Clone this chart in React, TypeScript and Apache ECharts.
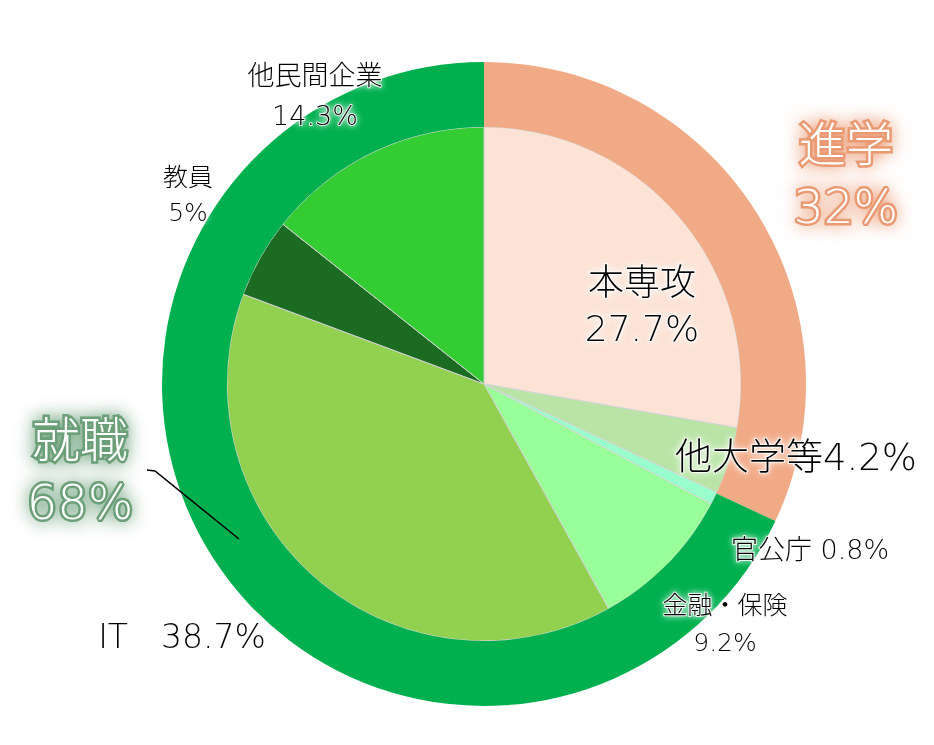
import React, { useRef, useEffect } from 'react';
import * as echarts from 'echarts';

// 外側: 進学 / 就職
const outerNames = ['進学', '就職'];
const outerValues = [32, 68];
const outerColors = ['#f1aa86', '#00b04f'];

// 内側: 内訳
const innerNames = ['本専攻', '他大学等', '官公庁', '金融・保険', 'IT', '教員', '他民間企業'];
const innerValues = [27.7, 4.2, 0.8, 9.2, 38.7, 5, 14.3];
const innerColors = ['#fce3d6', '#b9e4a6', '#99ffcc', '#99ff99', '#92d050', '#1c6b22', '#33cc33'];
// 名前と数値の区切り
const innerSeps = ['\n', '', ' ', '\n', '　', '\n', '\n'];

// ラベル位置 [x, y, fontSize, lineHeight]
const outerLabelPos = [
  [846, 175, 47, 62],
  [80, 471, 48, 62],
];
const innerLabelPos = [
  [642, 305, 36, 46],
  [796, 457, 37, 40],
  [810, 549, 27, 30],
  [725, 624, 25, 37],
  [182, 636, 33, 36],
  [188, 195, 25, 35],
  [315, 95, 27, 40],
];
const outerGlow = ['#ea9a72', '#6a9f78'];

const FONT = '"DejaVu Sans", "Noto Sans CJK JP", sans-serif';

const App: React.FC = () => {
  const chartRef = useRef<HTMLDivElement>(null);

  useEffect(() => {
    if (!chartRef.current) return;
    const myChart = echarts.init(chartRef.current, null, { renderer: 'svg' });

    const outerData = outerNames.map((name, i) => ({
      name,
      value: outerValues[i],
      itemStyle: { color: outerColors[i] },
      label: {
        formatter: `${name}\n${outerValues[i]}%`,
        fontSize: outerLabelPos[i][2],
        lineHeight: outerLabelPos[i][3],
        color: '#ffffff',
        textBorderColor: outerGlow[i],
        textBorderWidth: 5,
        textShadowColor: outerGlow[i],
        textShadowBlur: 18,
      },
    }));

    const innerData = innerNames.map((name, i) => ({
      name,
      value: innerValues[i],
      itemStyle: { color: innerColors[i] },
      label: {
        formatter: `${name}${innerSeps[i]}${innerValues[i]}%`,
        fontSize: innerLabelPos[i][2],
        lineHeight: innerLabelPos[i][3],
      },
    }));

    const option = {
      animation: false,
      graphic: [
        {
          type: 'polyline',
          z: 100,
          shape: { points: [[239, 539], [155, 471], [147, 470]] },
          style: { stroke: '#000000', lineWidth: 1.5, fill: 'none' },
        },
      ],
      series: [
        {
          type: 'pie',
          center: [484, 384],
          radius: [0, 257],
          startAngle: 90,
          clockwise: true,
          silent: true,
          itemStyle: { borderColor: '#d4d4d4', borderWidth: 1 },
          label: {
            show: true,
            position: 'inside',
            fontFamily: FONT,
            fontWeight: 200,
            color: '#000000',
            textBorderColor: 'rgba(255,255,255,0.85)',
            textBorderWidth: 2,
            textShadowColor: '#ffffff',
            textShadowBlur: 6,
          },
          labelLine: { show: false },
          labelLayout: (params: any) => {
            const p = innerLabelPos[params.dataIndex];
            return { x: p[0], y: p[1], align: 'center', verticalAlign: 'middle' };
          },
          data: innerData,
        },
        {
          type: 'pie',
          center: [484, 384],
          radius: [257, 322],
          startAngle: 90,
          clockwise: true,
          silent: true,
          itemStyle: { borderWidth: 0 },
          label: {
            show: true,
            position: 'inside',
            fontFamily: FONT,
            fontWeight: 200,
          },
          labelLine: { show: false },
          labelLayout: (params: any) => {
            const p = outerLabelPos[params.dataIndex];
            return { x: p[0], y: p[1], align: 'center', verticalAlign: 'middle' };
          },
          data: outerData,
        },
      ],
    };

    myChart.setOption(option);
    return () => {
      myChart.dispose();
    };
  }, []);

  return (
    <div
      ref={chartRef}
      style={{ position: 'absolute', left: 0, top: 0, width: '934px', height: '745px', background: '#ffffff' }}
    />
  );
};

export default App;
